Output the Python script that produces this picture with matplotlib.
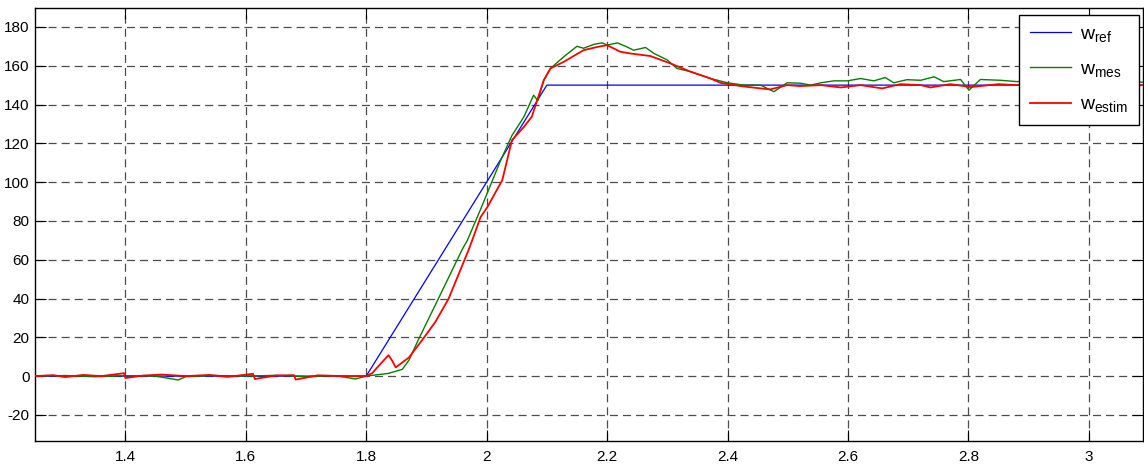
import matplotlib
matplotlib.use("Agg")
import matplotlib.pyplot as plt
from matplotlib.ticker import FormatStrFormatter

plt.rcParams['font.family'] = ['Liberation Sans', 'DejaVu Sans']
plt.rcParams['mathtext.fontset'] = 'custom'
plt.rcParams['mathtext.rm'] = 'Liberation Sans'
plt.rcParams['mathtext.it'] = 'Liberation Sans'
plt.rcParams['lines.scale_dashes'] = False

# ---- data ----
ref_t = [1.25, 1.80, 2.10, 3.09]
ref_w = [0, 0, 150, 150]

mes_t = [1.25, 1.30, 1.35, 1.40, 1.45, 1.488, 1.50, 1.55, 1.60, 1.65, 1.70, 1.75, 1.782,
         1.80, 1.837, 1.860, 1.871, 1.887, 1.920, 1.959, 1.968, 1.990, 2.023, 2.042,
         2.062, 2.078, 2.085, 2.095, 2.106, 2.128, 2.150, 2.161, 2.178, 2.192, 2.200,
         2.217, 2.233, 2.244, 2.264, 2.278, 2.300, 2.316, 2.339, 2.372, 2.400, 2.427,
         2.455, 2.477, 2.499, 2.521, 2.538, 2.555, 2.577, 2.599, 2.621, 2.643, 2.662,
         2.676, 2.698, 2.721, 2.743, 2.759, 2.787, 2.801, 2.820, 2.853, 2.881, 2.903,
         2.95, 3.00, 3.05, 3.09]
mes_w = [0, 0.3, -0.3, 0.2, 0, -2, -0.3, 0.3, 0, 0.4, -0.3, 0.2, -1.5,
         0, 1.4, 3.5, 8.2, 19, 40, 65, 70, 86, 111, 124,
         133.7, 144.8, 142, 152.6, 158.6, 164.6, 170, 169, 171, 171.8, 170.6,
         171.8, 169.7, 168, 169.4, 166.3, 163, 158.6, 156.9, 153.4, 151.2, 150,
         150, 146.6, 151.2, 151, 150, 151.2, 152.2, 152.2, 153.4, 152.2, 153.9,
         151.2, 152.8, 152.5, 154.3, 151.8, 152.9, 147.4, 152.9, 152.5, 151.8, 152.5,
         152, 152.5, 152, 151.5]

est_t = [1.25, 1.28, 1.30, 1.33, 1.36, 1.398, 1.40, 1.43, 1.46, 1.50, 1.54, 1.57,
         1.612, 1.615, 1.65, 1.68, 1.683, 1.72, 1.76, 1.80, 1.81, 1.82, 1.837, 1.843,
         1.849, 1.871, 1.893, 1.915, 1.937, 1.970, 1.976, 1.990, 2.001, 2.017, 2.026,
         2.042, 2.062, 2.075, 2.095, 2.106, 2.128, 2.161, 2.184, 2.200, 2.222, 2.239,
         2.272, 2.305, 2.339, 2.372, 2.388, 2.422, 2.455, 2.471, 2.499, 2.521, 2.555,
         2.588, 2.621, 2.657, 2.687, 2.721, 2.737, 2.770, 2.804, 2.850, 2.880, 2.903,
         2.95, 3.00, 3.05, 3.09]
est_w = [0, 0.5, -0.5, 0.6, 0, 1.5, -1, 0.3, 0.8, 0, 0.6, -0.4,
         1.2, -1.5, 0.3, 0.5, -1.8, 0.4, 0, 0, 1.5, 5, 10.8, 8,
         4.5, 9.6, 18.6, 28, 40, 65, 70, 82, 87, 96, 101,
         121.6, 128.5, 133.7, 152.6, 158.6, 162, 168, 169.7, 170.6, 167.2, 166.3,
         165, 161.2, 156.9, 153.4, 151.2, 149.5, 148.3, 147.8, 150, 149.5, 150,
         148.8, 150, 148.3, 150.5, 150, 148.8, 150.5, 149, 150.5, 150, 150.5,
         150, 150.3, 150, 150]

labels = [r'$\mathrm{w_{ref}}$', r'$\mathrm{w_{mes}}$', r'$\mathrm{w_{estim}}$']
x_ticks = [1.4, 1.6, 1.8, 2.0, 2.2, 2.4, 2.6, 2.8, 3.0]
y_ticks = [-20, 0, 20, 40, 60, 80, 100, 120, 140, 160, 180]

fig = plt.figure(figsize=(11.44, 4.68), dpi=100)
ax = fig.add_axes([35 / 1144, 27.3 / 468, 1108 / 1144, 432.4 / 468])

ax.plot(ref_t, ref_w, color='#0000ff', lw=0.9, label=labels[0], zorder=3)
ax.plot(mes_t, mes_w, color='#008000', lw=1.0, label=labels[1], zorder=4)
ax.plot(est_t, est_w, color='#ff0000', lw=1.3, label=labels[2], zorder=5)

ax.set_xlim(1.25, 3.09)
ax.set_ylim(-33.3, 189.6)
ax.set_xticks(x_ticks)
ax.set_yticks(y_ticks)
ax.xaxis.set_major_formatter(FormatStrFormatter('%g'))
ax.yaxis.set_major_formatter(FormatStrFormatter('%g'))

ax.grid(True, color='0.3', linestyle=(0, (5.8, 3.6)), linewidth=0.9)
ax.tick_params(direction='in', length=8, width=0.8, labelsize=11, colors='black',
               top=True, right=True)
ax.tick_params(axis='x', pad=7)
ax.tick_params(axis='y', pad=4)
for s in ax.spines.values():
    s.set_linewidth(1.0)
    s.set_color('black')

leg = ax.legend(loc='upper right', bbox_to_anchor=(0.9964, 0.985), borderaxespad=0,
                fontsize=14, handlelength=2.1, frameon=True, fancybox=False,
                framealpha=1, edgecolor='black', labelspacing=0.85,
                borderpad=0.55, handletextpad=0.5)
leg.get_frame().set_linewidth(1.0)

fig.savefig('out.png', dpi=100)
